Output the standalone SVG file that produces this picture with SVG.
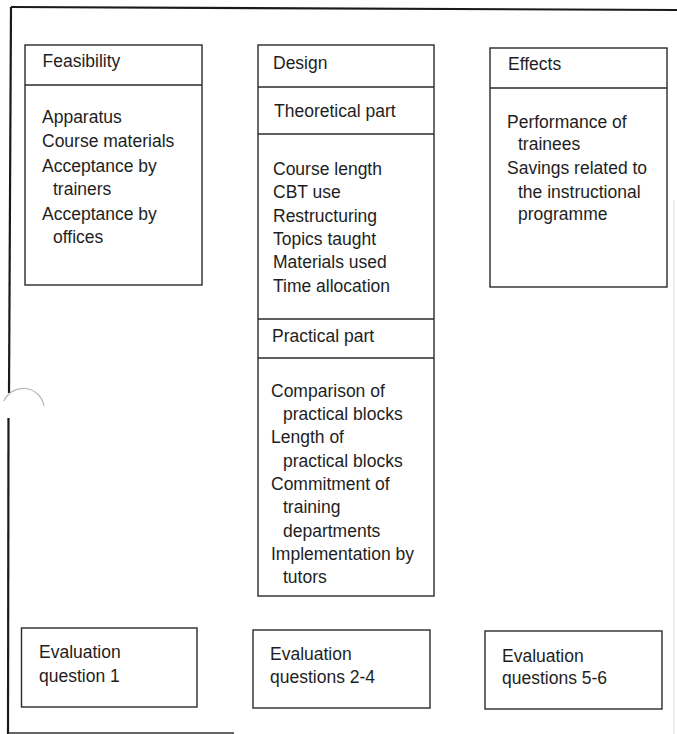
<svg xmlns="http://www.w3.org/2000/svg" width="677" height="734" viewBox="0 0 677 734">
<style>
.box{fill:none;stroke:#2a2a2a;stroke-width:1.4}
.div{stroke:#2a2a2a;stroke-width:1.4}
text{font-family:"Liberation Sans",Arial,sans-serif;font-size:17.5px;fill:#1e1e1e}
.frame{stroke:#1a1a1a;stroke-width:2.2;fill:none}
</style>
<rect width="677" height="734" fill="#ffffff"/>
<g id="frame">
<path class="frame" d="M11 7 L677 10"/>
<path class="frame" d="M11 7 L9 393"/>
<path class="frame" d="M8.5 418 L8 734"/>
<path d="M8 733 L234 733" stroke="#333" stroke-width="1.5" fill="none"/>
<path d="M674 200 L674 734" stroke="#dcdcdc" stroke-width="1" fill="none"/>
<path d="M4 401 A 21 21 0 0 1 44 406" stroke="#b5b5b5" stroke-width="1.2" fill="none"/>
</g>
<g id="feasibility">
<rect class="box" x="25" y="45" width="177" height="240"/>
<line class="div" x1="25" y1="85" x2="202" y2="85"/>
<text x="42.5" y="67">Feasibility</text>
<text x="42" y="123">Apparatus</text>
<text x="42" y="147">Course materials</text>
<text x="42" y="172">Acceptance by</text>
<text x="53" y="195">trainers</text>
<text x="42" y="220">Acceptance by</text>
<text x="53" y="243">offices</text>
</g>
<g id="design">
<rect class="box" x="258" y="45" width="176" height="551"/>
<line class="div" x1="258" y1="87" x2="434" y2="87"/>
<line class="div" x1="258" y1="134" x2="434" y2="134"/>
<line class="div" x1="258" y1="319" x2="434" y2="319"/>
<line class="div" x1="258" y1="358" x2="434" y2="358"/>
<text x="273" y="69">Design</text>
<text x="274" y="117">Theoretical part</text>
<text x="273" y="175">Course length</text>
<text x="273" y="198">CBT use</text>
<text x="273" y="222">Restructuring</text>
<text x="273" y="245">Topics taught</text>
<text x="273" y="268">Materials used</text>
<text x="273" y="292">Time allocation</text>
<text x="272" y="342">Practical part</text>
<text x="271" y="397">Comparison of</text>
<text x="283" y="420">practical blocks</text>
<text x="271" y="443">Length of</text>
<text x="283" y="467">practical blocks</text>
<text x="271" y="490">Commitment of</text>
<text x="283" y="513">training</text>
<text x="283" y="537">departments</text>
<text x="271" y="560">Implementation by</text>
<text x="283" y="583">tutors</text>
</g>
<g id="effects">
<rect class="box" x="490" y="48" width="177" height="239"/>
<line class="div" x1="490" y1="88" x2="667" y2="88"/>
<text x="508" y="70">Effects</text>
<text x="507" y="128">Performance of</text>
<text x="518" y="150">trainees</text>
<text x="507" y="174">Savings related to</text>
<text x="518" y="198">the instructional</text>
<text x="518" y="220">programme</text>
</g>
<g id="eval1">
<rect class="box" x="21.5" y="628" width="175.5" height="79"/>
<text x="39" y="658">Evaluation</text>
<text x="39" y="682">question 1</text>
</g>
<g id="eval2">
<rect class="box" x="253" y="630" width="177" height="78"/>
<text x="270" y="660">Evaluation</text>
<text x="270" y="683">questions 2-4</text>
</g>
<g id="eval3">
<rect class="box" x="485" y="631" width="177" height="78"/>
<text x="502" y="662">Evaluation</text>
<text x="502" y="684">questions 5-6</text>
</g>
<g id="connectors"></g>
</svg>
